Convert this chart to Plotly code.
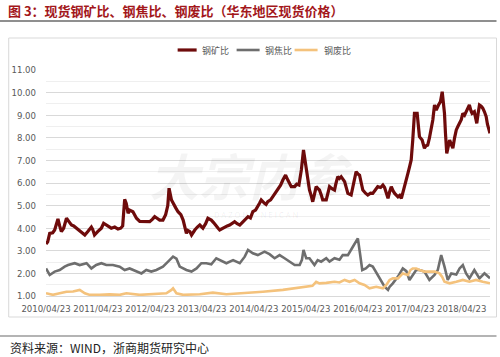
import plotly.graph_objects as go

# ---------------- data ----------------
ore_dates = [
    "2010-04-23","2010-05-05","2010-05-19","2010-06-09","2010-06-23","2010-07-16","2010-07-28","2010-08-09",
    "2010-08-25","2010-09-14","2010-09-30","2010-10-19","2010-11-04","2010-11-23","2010-12-09","2010-12-28",
    "2011-01-21","2011-02-11","2011-03-08","2011-03-17","2011-03-30","2011-04-21","2011-05-17","2011-06-02",
    "2011-06-21","2011-07-07","2011-07-26","2011-08-19","2011-09-11","2011-09-30","2011-10-14","2011-10-28",
    "2011-11-08","2011-11-21","2011-12-02","2011-12-25","2012-01-19","2012-02-11","2012-03-05","2012-03-30",
    "2012-04-21","2012-05-11","2012-05-26","2012-06-09","2012-06-30","2012-07-23","2012-08-11","2012-08-26",
    "2012-09-04","2012-09-21","2012-10-02","2012-10-21","2012-11-06","2012-11-26","2012-12-12","2012-12-23",
    "2013-01-04","2013-01-14","2013-01-28","2013-02-09","2013-02-18","2013-03-04","2013-03-22","2013-04-08",
    "2013-04-30","2013-05-19","2013-06-04","2013-06-16","2013-06-28","2013-07-14","2013-08-02","2013-08-15",
    "2013-08-26","2013-09-16","2013-09-30","2013-10-18","2013-11-04","2013-11-22","2013-12-09","2013-12-27",
    "2014-01-14","2014-01-31","2014-02-18","2014-03-13","2014-03-30","2014-04-16","2014-05-05","2014-05-21",
    "2014-06-02","2014-06-14","2014-06-26","2014-07-07","2014-07-18","2014-07-30","2014-08-19","2014-09-04",
    "2014-09-23","2014-10-09","2014-10-28","2014-11-13","2014-12-02","2014-12-18","2014-12-30","2015-01-11",
    "2015-02-04","2015-02-18","2015-03-06","2015-03-23","2015-04-07","2015-04-26","2015-05-08","2015-05-19",
    "2015-06-02","2015-06-11","2015-06-23","2015-07-05","2015-07-18","2015-07-28","2015-08-11","2015-08-20",
    "2015-09-14","2015-09-26","2015-10-07","2015-10-24","2015-11-11","2015-11-22","2015-12-04","2015-12-16",
    "2015-12-28","2016-01-21","2016-01-31","2016-02-13","2016-03-07","2016-03-23","2016-04-11","2016-04-24",
    "2016-05-05","2016-05-17","2016-05-28","2016-06-16","2016-07-02","2016-07-21","2016-08-06","2016-08-25",
    "2016-09-10","2016-09-30","2016-10-16","2016-10-28","2016-11-09","2016-11-21","2016-12-02","2016-12-14",
    "2016-12-27","2017-01-07","2017-01-30","2017-02-11","2017-02-23","2017-03-08","2017-03-18","2017-03-30",
    "2017-04-10","2017-04-21","2017-05-03","2017-05-14","2017-05-26","2017-06-14","2017-06-23","2017-06-30",
    "2017-07-19","2017-08-04","2017-08-16","2017-08-27","2017-09-08","2017-09-21","2017-10-02","2017-10-14",
    "2017-10-26","2017-11-11","2017-11-25","2017-12-07","2017-12-16","2017-12-23","2017-12-30","2018-01-08",
    "2018-01-18","2018-01-28","2018-02-09","2018-02-20","2018-03-04","2018-03-16","2018-03-27","2018-04-08",
    "2018-04-20","2018-05-01","2018-05-13","2018-05-24","2018-06-04","2018-06-16","2018-06-27","2018-07-05",
    "2018-07-21","2018-07-30","2018-08-07","2018-08-17","2018-08-26","2018-09-07","2018-09-18","2018-09-30",
    "2018-10-12","2018-10-21","2018-10-30","2018-11-08",
]
ore_values = [
    3.30, 3.40, 3.77, 3.80, 3.92, 4.41, 4.10, 3.85,
    4.00, 4.44, 4.30, 4.14, 4.10, 4.00, 3.95, 3.85,
    3.70, 3.85, 4.05, 3.95, 3.70, 3.85, 4.00, 4.22,
    4.14, 4.10, 4.00, 4.05, 3.96, 4.00, 4.10, 5.28,
    5.10, 4.66, 4.80, 4.73, 4.44, 4.30, 4.29, 4.30,
    4.29, 4.40, 4.51, 4.45, 4.36, 4.36, 4.60, 5.00,
    5.77, 5.25, 5.10, 4.90, 4.73, 4.60, 4.36, 4.10,
    3.77, 3.90, 3.85, 3.70, 3.80, 3.92, 4.05, 4.14,
    4.00, 4.20, 4.44, 4.40, 4.36, 4.25, 4.07, 4.00,
    3.92, 4.00, 4.07, 4.10, 4.14, 4.20, 4.29, 4.20,
    4.14, 4.25, 4.36, 4.51, 4.45, 4.73, 4.80, 4.95,
    5.10, 5.25, 5.15, 5.10, 5.05, 5.17, 5.25, 5.39,
    5.55, 5.69, 5.90, 6.13, 6.35, 6.13, 5.95, 5.84,
    5.84, 5.95, 5.91, 6.58, 7.46, 6.58, 6.10, 5.69,
    5.40, 5.17, 5.50, 5.84, 5.75, 5.69, 5.45, 5.25,
    5.25, 5.50, 5.84, 5.75, 5.69, 6.00, 6.28, 6.20,
    6.28, 6.06, 5.80, 5.54, 5.47, 6.00, 6.50, 6.40,
    6.35, 6.00, 5.69, 5.55, 5.47, 5.55, 5.54, 5.70,
    5.84, 5.80, 5.91, 5.80, 5.54, 5.32, 5.60, 5.84,
    5.65, 5.54, 5.39, 5.45, 5.32, 5.65, 5.99, 6.20,
    6.43, 6.70, 7.02, 7.90, 9.08, 9.08, 8.60, 8.05,
    7.90, 7.54, 7.65, 7.68, 7.98, 8.40, 8.79, 9.45,
    9.23, 9.45, 9.60, 10.04, 9.60, 9.08, 8.20, 7.31,
    7.60, 7.90, 7.70, 7.54, 8.00, 8.35, 8.50, 8.64,
    8.80, 9.08, 9.00, 9.15, 9.30, 9.45, 9.20, 9.08,
    9.15, 8.90, 8.64, 9.10, 9.45, 9.40, 9.31, 9.15,
    8.94, 8.60, 8.40, 8.20,
]

coke_dates = [
    "2010-04-23","2010-05-19","2010-06-23","2010-07-28","2010-09-01","2010-09-25","2010-11-11","2010-12-16",
    "2011-02-02","2011-03-08","2011-04-11","2011-05-17","2011-06-21","2011-08-06","2011-09-23","2011-10-28",
    "2011-12-02","2012-01-19","2012-02-23","2012-03-28","2012-05-02","2012-06-07","2012-07-23","2012-08-28",
    "2012-10-02","2012-10-26","2012-11-18","2013-01-04","2013-02-09","2013-03-16","2013-04-19","2013-05-24",
    "2013-06-28","2013-08-02","2013-09-06","2013-10-12","2013-11-28","2014-01-14","2014-02-18","2014-03-13",
    "2014-04-16","2014-05-21","2014-07-07","2014-08-11","2014-09-16","2014-10-21","2014-11-25","2014-12-30",
    "2015-02-04","2015-03-11","2015-03-27","2015-04-07","2015-04-26","2015-05-19","2015-06-23","2015-07-16",
    "2015-08-09","2015-09-14","2015-10-07","2015-11-11","2015-12-16","2016-01-08","2016-02-13","2016-03-19",
    "2016-04-11","2016-04-23","2016-05-08","2016-05-24","2016-06-18","2016-07-14","2016-08-06","2016-09-10",
    "2016-10-04","2016-10-28","2016-11-21","2016-12-02","2016-12-25","2017-01-30","2017-03-05","2017-03-30",
    "2017-04-21","2017-05-14","2017-06-07","2017-06-30","2017-08-04","2017-09-08","2017-10-14","2017-11-06",
    "2017-11-30","2017-12-23","2018-01-15","2018-02-09","2018-03-16","2018-04-08","2018-05-01","2018-05-24",
    "2018-06-16","2018-07-21","2018-08-26","2018-09-30","2018-11-08",
]
coke_values = [
    2.22, 1.93, 2.08, 2.15, 2.30, 2.37, 2.45, 2.37,
    2.45, 2.22, 2.37, 2.45, 2.37, 2.37, 2.30, 2.15,
    2.22, 2.08, 2.00, 2.15, 2.08, 2.15, 2.30, 2.52,
    2.74, 2.65, 2.30, 2.15, 2.08, 2.22, 2.45, 2.45,
    2.40, 2.67, 2.55, 2.45, 2.59, 2.45, 2.74, 3.04,
    2.89, 2.81, 2.96, 2.85, 2.67, 2.81, 2.67, 2.52,
    2.37, 2.37, 2.60, 3.04, 2.67, 2.67, 2.37, 2.59,
    2.52, 2.67, 2.52, 2.67, 2.60, 2.81, 2.81, 3.18,
    3.40, 3.55, 2.89, 2.15, 2.22, 2.37, 2.30, 1.93,
    1.63, 1.41, 1.27, 1.40, 1.56, 1.86, 2.22, 2.10,
    1.71, 1.93, 2.15, 2.15, 2.08, 1.71, 1.93, 2.15,
    2.81, 2.30, 1.71, 2.00, 1.95, 2.22, 2.37, 2.00,
    1.78, 2.15, 1.78, 2.00, 1.78,
]

scrap_dates = [
    "2010-04-23","2010-06-11","2010-07-28","2010-09-14","2010-10-30","2010-12-16","2011-01-21","2011-02-25",
    "2011-05-04","2011-07-14","2011-09-23","2011-11-09","2012-02-11","2012-05-14","2012-08-16","2012-09-21",
    "2012-10-02","2012-10-26","2012-12-12","2013-04-08","2013-07-09","2013-10-12","2014-01-14","2014-03-23",
    "2014-06-25","2014-11-13","2015-01-23","2015-04-26","2015-06-09","2015-07-05","2015-07-28","2015-09-14",
    "2015-11-11","2015-12-16","2016-01-21","2016-02-25","2016-03-31","2016-05-05","2016-06-09","2016-07-14",
    "2016-08-30","2016-10-16","2016-11-09","2016-12-02","2016-12-25","2017-01-30","2017-03-05","2017-04-10",
    "2017-04-28","2017-05-14","2017-06-07","2017-06-30","2017-08-04","2017-09-08","2017-10-14","2017-11-18",
    "2017-12-06","2017-12-23","2018-01-28","2018-03-16","2018-05-01","2018-06-16","2018-08-02","2018-09-18",
    "2018-11-08",
]
scrap_values = [
    1.12, 1.05, 1.12, 1.19, 1.20, 1.27, 1.12, 1.05,
    1.05, 1.07, 1.05, 1.12, 1.05, 1.10, 1.12, 1.27,
    1.34, 1.12, 1.05, 1.08, 1.15, 1.08, 1.12, 1.12,
    1.19, 1.27, 1.34, 1.41, 1.45, 1.63, 1.56, 1.58,
    1.63, 1.60, 1.71, 1.63, 1.71, 1.56, 1.49, 1.34,
    1.41, 1.34, 1.49, 1.71, 1.78, 1.78, 2.00, 1.93,
    2.15, 2.22, 2.22, 2.15, 2.08, 2.08, 2.08, 2.00,
    1.85, 1.63, 1.56, 1.63, 1.71, 1.63, 1.71, 1.63,
    1.56,
]

series_names = ["钢矿比", "钢焦比", "钢废比"]
x_tick_labels = ["2010/04/23", "2011/04/23", "2012/04/23", "2013/04/23", "2014/04/23",
                 "2015/04/23", "2016/04/23", "2017/04/23", "2018/04/23"]
y_tick_values = [1, 2, 3, 4, 5, 6, 7, 8, 9, 10, 11]

# ---------------- styling ----------------
W, H = 500, 357
L, R, T, B = 46.3, 9.5, 70, 61
pw, ph = W - L - R, H - T - B


def px_x(p):
    return (p - L) / pw


def px_y(p):
    return (H - B - p) / ph


FONT = "Noto Sans CJK SC"
TICKFONT = "Liberation Sans Narrow, Arial Narrow, DejaVu Sans Condensed, Liberation Sans, sans-serif"
colors = ["#6e0b0b", "#6e6e6e", "#f4c27c"]
widths = [3.2, 2.6, 2.6]

fig = go.Figure()
for name, xs, ys, c, w in zip(series_names,
                              [ore_dates, coke_dates, scrap_dates],
                              [ore_values, coke_values, scrap_values],
                              colors, widths):
    fig.add_trace(go.Scatter(x=xs, y=ys, mode="lines", name=name,
                             line=dict(color=c, width=w), showlegend=False))

fig.update_layout(
    width=W, height=H, autosize=False,
    margin=dict(l=L, r=R, t=T, b=B, autoexpand=False),
    paper_bgcolor="white", plot_bgcolor="white",
    font=dict(family=FONT, color="#595959", size=10),
    showlegend=False,
    title=dict(text="<b>图 3：现货钢矿比、钢焦比、钢废比（华东地区现货价格）</b>",
               x=8 / W, xref="container", xanchor="left",
               y=1 - 11 / H, yref="container", yanchor="middle",
               font=dict(family=FONT, size=13, color="#a3171b")),
)

fig.update_xaxes(
    type="date",
    range=[ore_dates[0], ore_dates[-1]],
    tickvals=[t.replace("/", "-") for t in x_tick_labels],
    ticktext=x_tick_labels,
    tickangle=0, automargin=False,
    showgrid=False, zeroline=False,
    showline=True, linecolor="#d9d9d9", linewidth=1,
    ticks="", ticklabelstandoff=4,
    tickfont=dict(family=TICKFONT, size=9.5, color="#595959"),
)
fig.update_yaxes(
    range=[1, 11],
    tickvals=y_tick_values,
    tickformat=".2f", automargin=False,
    showgrid=True, gridcolor="#d9d9d9", gridwidth=1,
    minor=dict(dtick=0.5, showgrid=True, gridcolor="#efefef", gridwidth=1),
    zeroline=False, showline=False, ticks="",
    ticklabelstandoff=9,
    tickfont=dict(family=TICKFONT, size=9.5, color="#595959"),
)

# custom legend (line sample + label)
legend_x = [(178, 197, 200), (237, 260, 263), (295, 318, 322)]
for (x0, x1, xt), name, c, w in zip(legend_x, series_names, colors, widths):
    fig.add_shape(type="line", xref="paper", yref="paper",
                  x0=px_x(x0), x1=px_x(x1), y0=px_y(50), y1=px_y(50),
                  line=dict(color=c, width=w))
    fig.add_annotation(text=name, x=px_x(xt), y=px_y(50), xref="paper", yref="paper",
                       xanchor="left", yanchor="middle", showarrow=False,
                       font=dict(family=FONT, size=9, color="#595959"))

# watermark
fig.add_annotation(text="<i><b>大宗内参</b></i>", x=px_x(252), y=px_y(174), xref="paper", yref="paper",
                   showarrow=False, font=dict(family=FONT, size=50, color="rgba(0,0,0,0.045)"))
fig.add_annotation(text="D A Z O N G   N E I C A N", x=px_x(256), y=px_y(214), xref="paper", yref="paper",
                   showarrow=False, font=dict(family=FONT, size=8, color="rgba(0,0,0,0.07)"))

# frame, separators and source
fig.add_shape(type="rect", xref="paper", yref="paper",
              x0=px_x(9), x1=px_x(497), y0=px_y(317), y1=px_y(38),
              line=dict(color="#d9d9d9", width=1), layer="below")
fig.add_shape(type="line", xref="paper", yref="paper",
              x0=px_x(0), x1=px_x(497), y0=px_y(21), y1=px_y(21),
              line=dict(color="#6a6a6a", width=1.5))
fig.add_shape(type="line", xref="paper", yref="paper",
              x0=px_x(0), x1=px_x(497), y0=px_y(336), y1=px_y(336),
              line=dict(color="#6a6a6a", width=1.2))
fig.add_annotation(text="资料来源：WIND，浙商期货研究中心", x=px_x(8), y=px_y(347),
                   xref="paper", yref="paper", xanchor="left", yanchor="middle",
                   showarrow=False, font=dict(family=FONT, size=12, color="#222222"))

fig.write_html("out.html", config={"displayModeBar": False},
               post_script="document.body.style.margin='0px';document.body.style.overflow='hidden';")
